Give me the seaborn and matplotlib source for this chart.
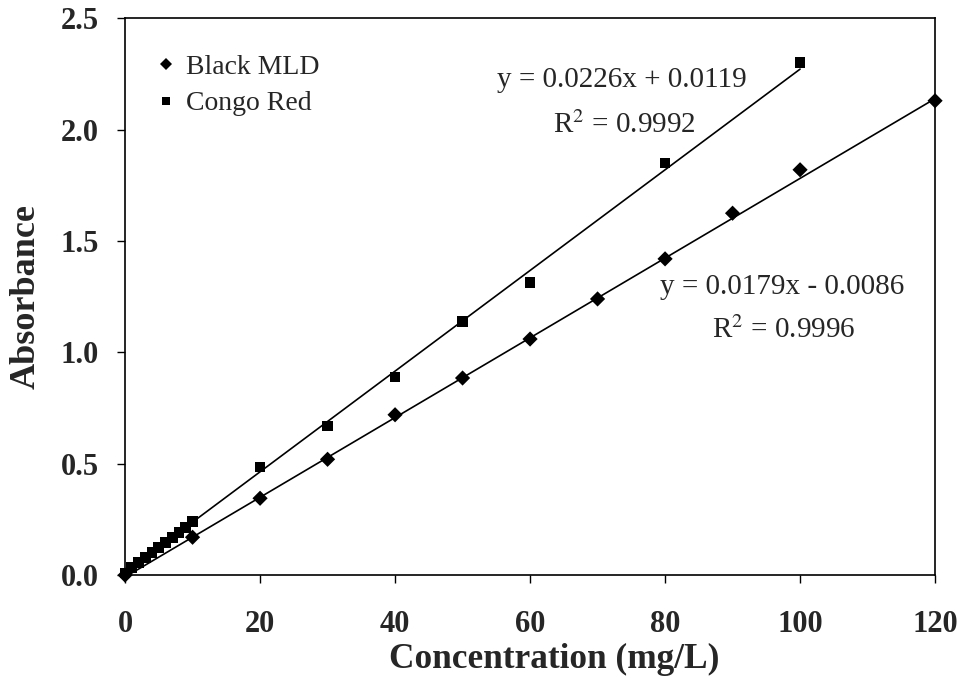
import numpy as np
import pandas as pd
import matplotlib
matplotlib.use("Agg")
import matplotlib.pyplot as plt
import seaborn as sns

# Data
congo_x = [0, 1, 2, 3, 4, 5, 6, 7, 8, 9, 10, 20, 30, 40, 50, 60, 80, 100]
congo_y = [0.01, 0.035, 0.057, 0.08, 0.10, 0.125, 0.148, 0.17, 0.19, 0.215, 0.24,
           0.485, 0.67, 0.89, 1.14, 1.315, 1.85, 2.30]
black_x = [0, 10, 20, 30, 40, 50, 60, 70, 80, 90, 100, 120]
black_y = [0.0, 0.17, 0.345, 0.52, 0.72, 0.885, 1.06, 1.24, 1.42, 1.625, 1.82, 2.13]

congo_fit = [0.0226, 0.0119]
black_fit = [0.0179, -0.0086]
congo_range = [0, 100]
black_range = [0, 120]

x_ticks = [0, 20, 40, 60, 80, 100, 120]
y_ticks = [0.0, 0.5, 1.0, 1.5, 2.0, 2.5]

sns.set_style("white")
plt.rcParams['font.family'] = ['Liberation Serif', 'DejaVu Serif']
plt.rcParams['mathtext.fontset'] = 'stix'

df = pd.concat([
    pd.DataFrame({"x": black_x, "y": black_y, "series": "Black MLD"}),
    pd.DataFrame({"x": congo_x, "y": congo_y, "series": "Congo Red"}),
])

fig = plt.figure(figsize=(9.62, 6.79), dpi=100)
ax = fig.add_axes([0.130, 0.153, 0.842, 0.820])

# fitted lines
for coef, rng in [(congo_fit, congo_range), (black_fit, black_range)]:
    xs = np.array(rng, dtype=float)
    ax.plot(xs, coef[0] * xs + coef[1], color="black", lw=1.2, zorder=1)

sns.scatterplot(data=df, x="x", y="y", style="series", hue="series",
                palette={"Black MLD": "black", "Congo Red": "black"},
                markers={"Black MLD": "D", "Congo Red": "s"},
                s=60, edgecolor="black", linewidth=0, ax=ax, zorder=3)
for coll in ax.collections:
    coll.set_clip_on(False)

ax.set_xlim(0, 120)
ax.set_ylim(0, 2.5)
ax.set_xticks(x_ticks)
ax.set_yticks(y_ticks)
ax.set_xticklabels([str(t) for t in x_ticks])
ax.set_yticklabels([f"{t:.1f}" for t in y_ticks])
for lab in ax.get_xticklabels() + ax.get_yticklabels():
    lab.set_fontweight("bold")
    lab.set_fontsize(22)
ax.tick_params(axis="both", direction="out", length=6, width=1, color="black",
               bottom=True, left=True)
ax.tick_params(axis="x", pad=19)
ax.tick_params(axis="y", pad=13)

ax.set_xlabel("Concentration (mg/L)", fontsize=25.4, fontweight="bold")
ax.xaxis.set_label_coords(0.530, -0.121)
ax.set_ylabel("Absorbance", fontsize=26, fontweight="bold")
ax.yaxis.set_label_coords(-0.102, 0.5)

for sp in ax.spines.values():
    sp.set_color("black")
    sp.set_linewidth(1.2)

leg = ax.legend(loc="upper left", bbox_to_anchor=(0.026, 0.955), borderaxespad=0,
                frameon=False, fontsize=20, handlelength=0.6, handletextpad=0.42,
                labelspacing=0.4, markerscale=0.8)

ax.text(0.459, 0.889, "y = 0.0226x + 0.0119", transform=ax.transAxes,
        fontsize=21, ha="left", va="center")
ax.text(0.528, 0.808, "R$^2$ = 0.9992", transform=ax.transAxes,
        fontsize=21, ha="left", va="center")
ax.text(0.660, 0.517, "y = 0.0179x - 0.0086", transform=ax.transAxes,
        fontsize=21, ha="left", va="center")
ax.text(0.725, 0.440, "R$^2$ = 0.9996", transform=ax.transAxes,
        fontsize=21, ha="left", va="center")

fig.savefig("out.png", dpi=100)
